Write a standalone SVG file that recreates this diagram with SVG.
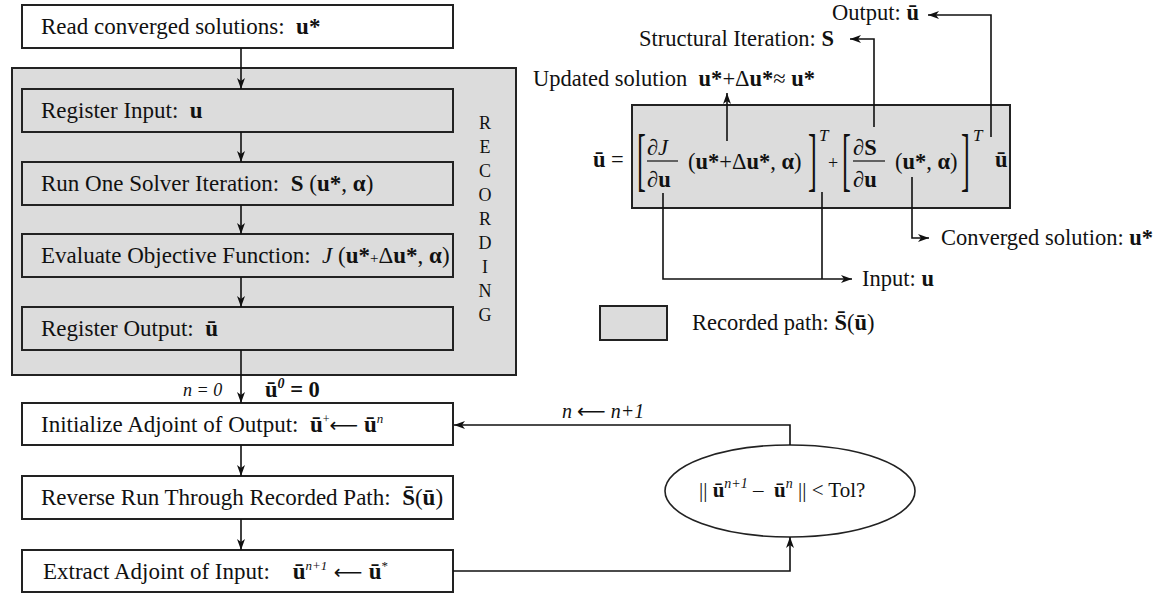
<svg xmlns="http://www.w3.org/2000/svg" width="1163" height="595" viewBox="0 0 1163 595" xml:space="preserve">
<defs>
<style>
text{white-space:pre}
.t{font-family:"Liberation Serif","Times New Roman",serif;font-size:22.5px;fill:#111}
.bx{font-size:23px}
.b{font-weight:bold}
.i{font-style:italic}
.box{fill:#fff;stroke:#222;stroke-width:2}
.gbox{fill:#dcdcdc;stroke:#222;stroke-width:2}
.c{fill:none;stroke:#111;stroke-width:1.6}
.ar{font-family:"DejaVu Sans",sans-serif;font-size:20px}
.rec{font-family:"Liberation Serif","Times New Roman",serif;font-size:18px;fill:#111;text-anchor:middle}
.br{font-family:"Liberation Serif","Times New Roman",serif;font-size:70px;fill:#111}
</style>
<marker id="ah" markerWidth="12" markerHeight="10" refX="11" refY="4" orient="auto" markerUnits="userSpaceOnUse"><path d="M0,0 L11,4 L0,8 L3,4 z" fill="#111"/></marker>
</defs>
<rect width="1163" height="595" fill="#fff"/>

<g id="recording-group">
<rect class="gbox" x="12" y="68" width="504" height="307"/>
<text class="rec" x="485" y="129">R</text>
<text class="rec" x="485" y="153">E</text>
<text class="rec" x="485" y="177">C</text>
<text class="rec" x="485" y="201">O</text>
<text class="rec" x="485" y="225">R</text>
<text class="rec" x="485" y="249">D</text>
<text class="rec" x="485" y="273">I</text>
<text class="rec" x="485" y="297">N</text>
<text class="rec" x="485" y="321">G</text>
</g>

<g id="read">
<rect class="box" x="22" y="5" width="431" height="43"/>
<text class="t bx" x="41" y="34">Read converged solutions:  <tspan class="b">u*</tspan></text>
</g>
<g id="reg-input">
<rect class="gbox" x="22" y="89" width="431" height="43"/>
<text class="t bx" x="41" y="118">Register Input:  <tspan class="b">u</tspan></text>
</g>
<g id="run-solver">
<rect class="gbox" x="22" y="162" width="431" height="43"/>
<text class="t bx" x="41" y="191">Run One Solver Iteration:  <tspan class="b">S</tspan> (<tspan class="b">u*</tspan>, <tspan class="b">α</tspan>)</text>
</g>
<g id="evaluate">
<rect class="gbox" x="22" y="234" width="431" height="43"/>
<text class="t bx" x="41" y="263">Evaluate Objective Function:  <tspan class="i">J</tspan> (<tspan class="b">u*</tspan><tspan style="font-size:15px">+</tspan>Δ<tspan class="b">u*</tspan>, <tspan class="b">α</tspan>)</text>
</g>
<g id="reg-output">
<rect class="gbox" x="22" y="307" width="431" height="43"/>
<text class="t bx" x="41" y="336">Register Output:  <tspan class="b">ū</tspan></text>
</g>

<g id="init-label">
<text class="t i" x="183" y="396" style="font-size:18px">n = 0</text>
<text class="t b" x="265" y="397">ū<tspan class="i" style="font-size:14px" dy="-9">0</tspan><tspan dy="9"> = 0</tspan></text>
</g>

<g id="initialize">
<rect class="box" x="22" y="403" width="431" height="42"/>
<text class="t bx" x="41" y="432">Initialize Adjoint of Output:  <tspan class="b">ū</tspan><tspan style="font-size:12px" dy="-9">+</tspan><tspan class="ar" dy="9">⟵</tspan> <tspan class="b">ū</tspan><tspan class="i" style="font-size:13px" dy="-9">n</tspan></text>
</g>
<g id="reverse">
<rect class="box" x="22" y="476" width="431" height="43"/>
<text class="t bx" x="41" y="505">Reverse Run Through Recorded Path:  <tspan class="b">S̄</tspan>(<tspan class="b">ū</tspan>)</text>
</g>
<g id="extract">
<rect class="box" x="22" y="550" width="431" height="42"/>
<text class="t bx" x="43" y="579">Extract Adjoint of Input:    <tspan class="b">ū</tspan><tspan class="i" style="font-size:13px" dy="-9">n+1</tspan><tspan class="ar" dy="9"> ⟵ </tspan><tspan class="b">ū</tspan><tspan style="font-size:13px" dy="-9">*</tspan></text>
</g>

<g id="tol">
<ellipse cx="790" cy="491" rx="125" ry="46" fill="#fff" stroke="#222" stroke-width="1.6"/>
<text class="t" x="699" y="497" style="font-size:21px">|| <tspan class="b">ū</tspan><tspan class="i" style="font-size:14px" dy="-9">n+1</tspan><tspan dy="9"> –  </tspan><tspan class="b">ū</tspan><tspan class="i" style="font-size:14px" dy="-9">n</tspan><tspan dy="9"> || &lt; Tol?</tspan></text>
<text class="t i" x="562" y="418" style="font-size:20px">n <tspan class="ar" style="font-style:normal;font-size:20px">⟵</tspan> n+1</text>
</g>

<g id="equation">
<rect class="gbox" x="632" y="105" width="378" height="103"/>
<text class="t b" x="593" y="167">ū</text>
<text class="t" x="611" y="167">=</text>
<text class="br" transform="translate(637,183) scale(0.38,1)">[</text>
<text class="t i" x="647" y="155">∂J</text>
<line x1="647" y1="161" x2="678" y2="161" stroke="#111" stroke-width="1.2"/>
<text class="t" x="647" y="187">∂<tspan class="b">u</tspan></text>
<text class="t" x="688" y="169">(<tspan class="b">u*</tspan>+Δ<tspan class="b">u*</tspan>, <tspan class="b">α</tspan>)</text>
<text class="br" transform="translate(808,183) scale(0.38,1)">]</text>
<text class="t i" x="819" y="141" style="font-size:17px">T</text>
<text class="t" x="828" y="169" style="font-size:18px">+</text>
<text class="br" transform="translate(842,183) scale(0.38,1)">[</text>
<text class="t" x="853" y="155">∂<tspan class="b">S</tspan></text>
<line x1="853" y1="161" x2="885" y2="161" stroke="#111" stroke-width="1.2"/>
<text class="t" x="853" y="187">∂<tspan class="b">u</tspan></text>
<text class="t" x="895" y="169">(<tspan class="b">u*</tspan>, <tspan class="b">α</tspan>)</text>
<text class="br" transform="translate(961,183) scale(0.38,1)">]</text>
<text class="t i" x="973" y="141" style="font-size:17px">T</text>
<text class="t b" x="995" y="167">ū</text>
</g>

<g id="labels">
<text class="t" x="832" y="20">Output: <tspan class="b">ū</tspan></text>
<text class="t" x="639" y="46">Structural Iteration: <tspan class="b">S</tspan></text>
<text class="t" x="533" y="86">Updated solution  <tspan class="b">u*</tspan>+Δ<tspan class="b">u*</tspan>≈ <tspan class="b">u*</tspan></text>
<text class="t" x="941" y="245">Converged solution: <tspan class="b">u*</tspan></text>
<text class="t" x="862" y="286">Input: <tspan class="b">u</tspan></text>
</g>

<g id="legend">
<rect class="gbox" x="600" y="306" width="67" height="34" stroke-width="1.6"/>
<text class="t" x="692" y="330">Recorded path: <tspan class="b">S̄</tspan>(<tspan class="b">ū</tspan>)</text>
</g>

<g id="connectors">
<path class="c" d="M241,48 V89" marker-end="url(#ah)"/>
<path class="c" d="M241,132 V162" marker-end="url(#ah)"/>
<path class="c" d="M241,205 V234" marker-end="url(#ah)"/>
<path class="c" d="M241,277 V307" marker-end="url(#ah)"/>
<path class="c" d="M241,350 V403" marker-end="url(#ah)"/>
<path class="c" d="M241,445 V476" marker-end="url(#ah)"/>
<path class="c" d="M241,519 V550" marker-end="url(#ah)"/>
<path class="c" d="M453,571 H790 V537" marker-end="url(#ah)"/>
<path class="c" d="M790,445 V425 H454" marker-end="url(#ah)"/>
<path class="c" d="M727,141 V93" marker-end="url(#ah)"/>
<path class="c" d="M874,127 V39 H850" marker-end="url(#ah)"/>
<path class="c" d="M991,137 V15 H928" marker-end="url(#ah)"/>
<path class="c" d="M663,193 V279 H852" marker-end="url(#ah)"/>
<path class="c" d="M822,192 V279"/>
<path class="c" d="M912,177 V238 H929" marker-end="url(#ah)"/>
</g>
</svg>
